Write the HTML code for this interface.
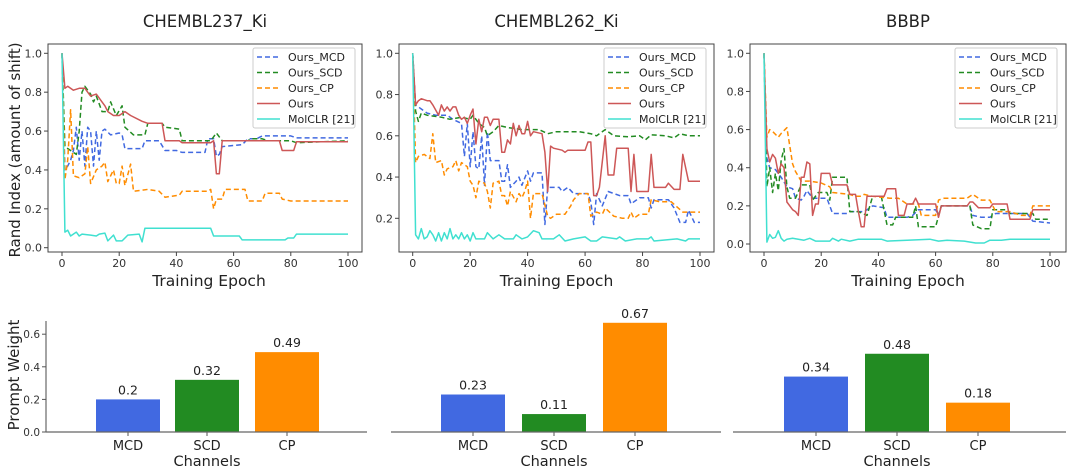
<!DOCTYPE html>
<html><head><meta charset="utf-8">
<style>
html,body{margin:0;padding:0;background:#fff;}
svg{display:block;font-family:"DejaVu Sans","Liberation Sans",sans-serif;}
</style></head>
<body>
<svg id="fig" width="1071" height="473" viewBox="0 0 1071 473" xmlns="http://www.w3.org/2000/svg"></svg>
<script>
// ---------- data ----------
const titles = ["CHEMBL237_Ki","CHEMBL262_Ki","BBBP"];
const seriesNames = ["Ours_MCD","Ours_SCD","Ours_CP","Ours","MolCLR [21]"];
const xTicks = [0,20,40,60,80,100];
const yTicks1 = [0,0.2,0.4,0.6,0.8,1.0];
const yTicks2 = [0.2,0.4,0.6,0.8,1.0];
const yTicks3 = [0,0.2,0.4,0.6,0.8,1.0];

const p1McdX=[0,1,2,3,4,5,6,7,8,9,10,11,12,13,14,15,17,20,21,22,28,29,34,36,40,42,50,51,53,54,55,56,63,65,68,70,80,82,100];
const p1McdY=[1,0.4,0.42,0.45,0.5,0.62,0.45,0.6,0.42,0.62,0.6,0.42,0.6,0.45,0.6,0.61,0.58,0.59,0.58,0.51,0.51,0.55,0.55,0.5,0.5,0.49,0.49,0.56,0.56,0.47,0.48,0.52,0.53,0.56,0.56,0.575,0.575,0.565,0.565];
const p1ScdX=[0,1,3,5,6,7,8,10,11,12,13,14,16,17,19,21,22,25,29,30,35,36,41,42,52,54,56,65,66,70,72,80,82,100];
const p1ScdY=[1,0.52,0.5,0.48,0.6,0.8,0.83,0.79,0.75,0.78,0.74,0.7,0.7,0.75,0.68,0.73,0.62,0.58,0.58,0.64,0.64,0.62,0.61,0.55,0.55,0.59,0.55,0.55,0.56,0.56,0.55,0.55,0.54,0.55];
const p1CpX=[0,1,2,3,4,6,8,9,10,12,14,15,16,18,19,20,21,22,24,25,30,34,36,41,42,51,52,53,54,56,57,64,65,70,71,76,77,80,100];
const p1CpY=[1,0.35,0.45,0.71,0.37,0.36,0.38,0.52,0.33,0.4,0.42,0.44,0.34,0.4,0.33,0.33,0.42,0.32,0.43,0.29,0.3,0.29,0.26,0.27,0.29,0.29,0.3,0.2,0.25,0.25,0.3,0.3,0.24,0.24,0.28,0.28,0.25,0.24,0.24];
const p1OursX=[0,1,2,4,6,8,9,10,12,14,15,16,18,20,22,24,28,30,35,36,41,42,52,53,54,55,56,76,77,81,82,100];
const p1OursY=[1,0.82,0.83,0.81,0.82,0.82,0.8,0.78,0.79,0.75,0.73,0.7,0.68,0.68,0.7,0.68,0.65,0.64,0.64,0.55,0.55,0.54,0.54,0.55,0.38,0.38,0.55,0.55,0.5,0.5,0.545,0.545];
const p1MolX=[0,1,2,3,5,6,7,10,12,13,15,16,18,19,21,23,27,28,29,52,53,62,63,78,79,81,82,100];
const p1MolY=[1,0.08,0.09,0.06,0.08,0.06,0.07,0.065,0.06,0.07,0.075,0.035,0.065,0.035,0.035,0.065,0.07,0.03,0.1,0.1,0.06,0.06,0.04,0.04,0.05,0.05,0.07,0.07];

const p2McdX=[0,1,3,5,8,12,14,17,18,19,20,21,22,23,24,25,26,27,30,31,32,33,34,36,37,38,40,41,42,45,46,47,51,52,54,56,61,62,63,64,66,68,72,75,76,79,82,83,84,89,91,93,95,96,98,100];
const p2McdY=[1,0.75,0.73,0.71,0.7,0.7,0.68,0.66,0.5,0.66,0.45,0.62,0.45,0.44,0.6,0.36,0.62,0.48,0.48,0.38,0.38,0.46,0.35,0.38,0.4,0.36,0.43,0.38,0.42,0.42,0.17,0.35,0.35,0.33,0.35,0.32,0.32,0.28,0.17,0.32,0.26,0.33,0.31,0.31,0.27,0.3,0.3,0.25,0.29,0.29,0.25,0.18,0.18,0.24,0.18,0.18];
const p2ScdX=[0,1,2,3,5,10,13,17,20,21,23,25,26,28,30,33,38,44,47,50,58,62,64,67,70,75,79,81,83,88,91,93,96,100];
const p2ScdY=[1,0.72,0.67,0.71,0.7,0.69,0.68,0.69,0.68,0.7,0.66,0.64,0.6,0.62,0.65,0.64,0.63,0.63,0.61,0.62,0.62,0.61,0.6,0.63,0.6,0.595,0.6,0.58,0.605,0.6,0.59,0.61,0.6,0.6];
const p2CpX=[0,1,2,4,6,7,8,10,11,12,14,15,16,17,19,20,21,22,23,25,26,27,28,30,31,32,33,34,36,37,38,39,40,41,42,45,47,48,50,53,55,56,58,61,62,64,66,67,70,73,75,76,77,79,82,83,86,90,94,100];
const p2CpY=[1,0.47,0.5,0.51,0.49,0.61,0.47,0.48,0.41,0.44,0.45,0.48,0.43,0.47,0.45,0.38,0.36,0.3,0.38,0.37,0.33,0.25,0.37,0.38,0.31,0.31,0.26,0.33,0.28,0.32,0.3,0.33,0.38,0.2,0.32,0.32,0.21,0.2,0.22,0.22,0.26,0.29,0.32,0.32,0.21,0.23,0.22,0.25,0.21,0.2,0.2,0.23,0.2,0.22,0.22,0.29,0.28,0.28,0.23,0.23];
const p2OursX=[0,1,2,3,5,6,7,9,10,11,12,13,14,15,16,17,18,19,20,21,22,23,24,25,26,27,28,30,31,32,33,34,35,36,37,38,39,40,41,42,45,46,47,48,49,52,53,54,60,61,62,63,64,65,67,68,70,71,75,76,77,78,82,83,84,88,89,91,93,94,96,100];
const p2OursY=[1,0.75,0.77,0.78,0.77,0.77,0.75,0.7,0.75,0.72,0.74,0.72,0.74,0.74,0.7,0.68,0.69,0.66,0.7,0.73,0.56,0.68,0.62,0.69,0.69,0.65,0.68,0.68,0.52,0.52,0.58,0.56,0.66,0.6,0.65,0.61,0.61,0.67,0.6,0.62,0.61,0.52,0.33,0.55,0.54,0.53,0.52,0.53,0.53,0.57,0.57,0.31,0.31,0.35,0.6,0.41,0.41,0.54,0.54,0.33,0.51,0.33,0.33,0.51,0.35,0.35,0.37,0.34,0.34,0.51,0.38,0.38];
const p2MolX=[0,1,2,3,4,5,6,7,8,9,10,11,12,13,14,15,16,17,18,19,20,21,22,25,26,28,30,32,35,36,38,40,42,44,45,49,51,53,56,60,62,64,66,71,72,74,78,82,83,84,92,95,96,100];
const p2MolY=[1,0.12,0.1,0.15,0.1,0.11,0.14,0.12,0.09,0.13,0.09,0.13,0.1,0.15,0.1,0.12,0.1,0.13,0.1,0.12,0.09,0.13,0.1,0.1,0.13,0.1,0.12,0.1,0.1,0.12,0.1,0.11,0.14,0.13,0.1,0.1,0.12,0.09,0.1,0.11,0.09,0.09,0.11,0.1,0.11,0.09,0.1,0.1,0.11,0.09,0.1,0.09,0.1,0.1];

const p3McdX=[0,1,2,4,6,8,10,11,13,14,15,17,22,24,29,30,35,38,42,43,50,52,54,60,61,62,72,73,76,79,81,92,94,100];
const p3McdY=[1,0.45,0.4,0.39,0.35,0.3,0.29,0.24,0.23,0.25,0.28,0.24,0.24,0.16,0.16,0.17,0.17,0.2,0.19,0.14,0.14,0.15,0.18,0.18,0.15,0.2,0.2,0.15,0.14,0.14,0.16,0.16,0.12,0.11];
const p3ScdX=[0,1,2,3,4,5,6,7,8,9,11,13,16,17,19,22,23,24,29,30,33,36,38,41,43,45,46,52,53,54,60,62,72,73,76,79,80,85,86,94,95,100];
const p3ScdY=[1,0.3,0.4,0.27,0.37,0.28,0.44,0.5,0.3,0.24,0.24,0.31,0.31,0.23,0.27,0.27,0.23,0.35,0.35,0.17,0.17,0.15,0.25,0.25,0.1,0.1,0.14,0.14,0.2,0.09,0.09,0.2,0.2,0.1,0.08,0.08,0.18,0.18,0.16,0.16,0.13,0.13];
const p3CpX=[0,1,2,3,5,6,8,10,11,13,16,20,23,24,30,32,34,35,38,44,47,50,54,55,60,61,63,71,73,74,76,79,81,86,90,93,94,100];
const p3CpY=[1,0.56,0.6,0.59,0.56,0.58,0.61,0.42,0.38,0.33,0.33,0.32,0.3,0.27,0.26,0.25,0.25,0.26,0.25,0.24,0.24,0.21,0.21,0.15,0.15,0.23,0.24,0.24,0.26,0.25,0.23,0.23,0.17,0.17,0.15,0.15,0.2,0.2];
const p3OursX=[0,1,2,3,4,5,6,7,8,10,11,12,13,14,15,16,17,18,19,20,23,24,29,30,32,33,34,35,36,42,43,46,47,49,50,52,53,54,60,61,62,71,72,73,75,79,80,85,86,93,94,100];
const p3OursY=[1,0.5,0.43,0.47,0.45,0.37,0.42,0.4,0.22,0.18,0.17,0.15,0.35,0.35,0.43,0.42,0.15,0.21,0.21,0.37,0.37,0.31,0.31,0.26,0.26,0.17,0.09,0.09,0.25,0.25,0.29,0.29,0.15,0.15,0.21,0.21,0.24,0.21,0.21,0.14,0.2,0.2,0.22,0.22,0.19,0.19,0.21,0.21,0.13,0.13,0.18,0.18];
const p3MolX=[0,1,2,3,4,5,6,7,8,10,12,14,16,18,23,24,26,27,30,33,41,43,50,58,61,64,70,74,77,79,83,86,100];
const p3MolY=[1,0.01,0.05,0.03,0.035,0.07,0.03,0.015,0.025,0.03,0.025,0.02,0.03,0.015,0.015,0.03,0.015,0.025,0.015,0.025,0.025,0.015,0.02,0.025,0.015,0.02,0.015,0.005,0.005,0.02,0.02,0.025,0.025];

const barCats = ["MCD","SCD","CP"];
const barVals1 = [0.2,0.32,0.49];
const barVals2 = [0.23,0.11,0.67];
const barVals3 = [0.34,0.48,0.18];
const barLabels1 = ["0.2","0.32","0.49"];
const barLabels2 = ["0.23","0.11","0.67"];
const barLabels3 = ["0.34","0.48","0.18"];
const barYTicks = [0,0.2,0.4,0.6];

// ---------- drawing ----------
const NS="http://www.w3.org/2000/svg";
const svg=document.getElementById('fig');
function mk(tag,attrs,parent,text){
  const e=document.createElementNS(NS,tag);
  for(const k in attrs) e.setAttribute(k,attrs[k]);
  if(text!==undefined) e.textContent=text;
  (parent||svg).appendChild(e);
  return e;
}
const colors=["#4169e1","#228b22","#ff8c00","#cd5757","#40e0d0"];
const dashed=[true,true,true,false,false];

const panels=[
 {left:48,right:362,top:44,bottom:252,x0:62,x100:348,y1:53.3,yPer:194.4,yTicks:yTicks1,data:[[p1McdX,p1McdY],[p1ScdX,p1ScdY],[p1CpX,p1CpY],[p1OursX,p1OursY],[p1MolX,p1MolY]],legX:253},
 {left:399,right:714,top:44,bottom:252,x0:412.7,x100:700,y1:53.3,yPer:206.25,yTicks:yTicks2,data:[[p2McdX,p2McdY],[p2ScdX,p2ScdY],[p2CpX,p2CpY],[p2OursX,p2OursY],[p2MolX,p2MolY]],legX:604},
 {left:750,right:1066,top:44,bottom:252,x0:764,x100:1050,y1:53.3,yPer:190.7,yTicks:yTicks3,data:[[p3McdX,p3McdY],[p3ScdX,p3ScdY],[p3CpX,p3CpY],[p3OursX,p3OursY],[p3MolX,p3MolY]],legX:955}
];

panels.forEach((p,pi)=>{
  const g=mk('g',{});
  
  
  const xs=v=>p.x0+(p.x100-p.x0)*v/100;
  const ys=v=>p.y1+(1-v)*p.yPer;
  const t=mk('text',{x:(p.left+p.right)/2,y:27,'text-anchor':'middle','font-size':16.5,fill:'#222'},g,titles[pi]);
  
  
  const clipId='clip'+pi;
  const cp=mk('clipPath',{id:clipId},g);
  mk('rect',{x:p.left,y:p.top,width:p.right-p.left,height:p.bottom-p.top},cp);
  const lines=mk('g',{'clip-path':'url(#'+clipId+')'},g);
  p.data.forEach((s,si)=>{
    const pts=s[0].map((x,i)=>xs(x).toFixed(1)+','+ys(s[1][i]).toFixed(1)).join(' ');
    const pl=mk('polyline',{points:pts,fill:'none',stroke:colors[si],'stroke-width':1.5,'stroke-linejoin':'round','stroke-dasharray':dashed[si]?'5,3':'none'},lines);
    
    
  });
  const fr=mk('rect',{x:p.left,y:p.top,width:p.right-p.left,height:p.bottom-p.top,fill:'none',stroke:'#444','stroke-width':1},g);
  
  
  xTicks.forEach(v=>{
    mk('line',{x1:xs(v),x2:xs(v),y1:p.bottom,y2:p.bottom+4,stroke:'#444'},g);
    const tl=mk('text',{x:xs(v),y:p.bottom+15,'text-anchor':'middle','font-size':11,fill:'#333'},g,String(v));
    
    
  });
  p.yTicks.forEach(v=>{
    mk('line',{x1:p.left-4,x2:p.left,y1:ys(v),y2:ys(v),stroke:'#444'},g);
    const tl=mk('text',{x:p.left-6,y:ys(v)+4,'text-anchor':'end','font-size':11,fill:'#333'},g,v.toFixed(1));
    
    
  });
  const xt=mk('text',{x:(p.left+p.right)/2+(pi==0?4:0),y:286,'text-anchor':'middle','font-size':15.5,fill:'#222'},g,'Training Epoch');
  
  
  // legend
  const lg=mk('g',{},g);
  
  
  mk('rect',{x:p.legX,y:48,width:102,height:80,rx:2,fill:'#fff','fill-opacity':0.85,stroke:'#ccc'},lg);
  seriesNames.forEach((n,si)=>{
    const yy=57+si*15.5;
    const e=mk('g',{},lg);
    
    
    mk('line',{x1:p.legX+4,x2:p.legX+27,y1:yy,y2:yy,stroke:colors[si],'stroke-width':1.5,'stroke-dasharray':dashed[si]?'5,3':'none'},e);
    mk('text',{x:p.legX+35,y:yy+4,'font-size':11,fill:'#222'},e,n);
  });
});
const yt=mk('text',{x:0,y:0,transform:'translate(20,150) rotate(-90)','text-anchor':'middle','font-size':15,fill:'#222'},svg,'Rand Index (amount of shift)');



// bar charts
const barColors=["#4169e1","#228b22","#ff8c00"];
const barPanels=[
 {l:46,r:367,centers:[128,207,287],vals:barVals1,labels:barLabels1,yaxis:true},
 {l:391,r:721,centers:[473,554,635],vals:barVals2,labels:barLabels2,yaxis:false},
 {l:733,r:1066,centers:[816,897,978],vals:barVals3,labels:barLabels3,yaxis:false}
];
const base=432, per=163, bw=64;
const by=v=>base-v*per;
barPanels.forEach((bp,bi)=>{
  const g=mk('g',{});
  
  
  bp.vals.forEach((v,i)=>{
    const r=mk('rect',{x:bp.centers[i]-bw/2,y:by(v),width:bw,height:base-by(v),fill:barColors[i]},g);
    
    
    const vl=mk('text',{x:bp.centers[i],y:by(v)-5,'text-anchor':'middle','font-size':12.5,fill:'#222'},g,bp.labels[i]);
    
    
    mk('line',{x1:bp.centers[i],x2:bp.centers[i],y1:base,y2:base+4,stroke:'#555'},g);
    const cl=mk('text',{x:bp.centers[i],y:base+18,'text-anchor':'middle','font-size':13,fill:'#222'},g,barCats[i]);
    
    
  });
  mk('line',{x1:bp.l,x2:bp.r,y1:base,y2:base,stroke:'#666','stroke-width':1.2},g);
  const ct=mk('text',{x:bp.centers[1],y:base+34,'text-anchor':'middle','font-size':14.5,fill:'#222'},g,'Channels');
  
  
  if(bp.yaxis){
    mk('line',{x1:bp.l,x2:bp.l,y1:321,y2:base,stroke:'#666','stroke-width':1.2},g);
    barYTicks.forEach(v=>{
      mk('line',{x1:bp.l-4,x2:bp.l,y1:by(v),y2:by(v),stroke:'#555'},g);
      const tl=mk('text',{x:bp.l-6,y:by(v)+4,'text-anchor':'end','font-size':10.5,fill:'#333'},g,v.toFixed(1));
      
      
    });
    const pt=mk('text',{x:0,y:0,transform:'translate(19,375) rotate(-90)','text-anchor':'middle','font-size':15,fill:'#222'},g,'Prompt Weight');
    
    
  }
});
</script>
</body></html>
